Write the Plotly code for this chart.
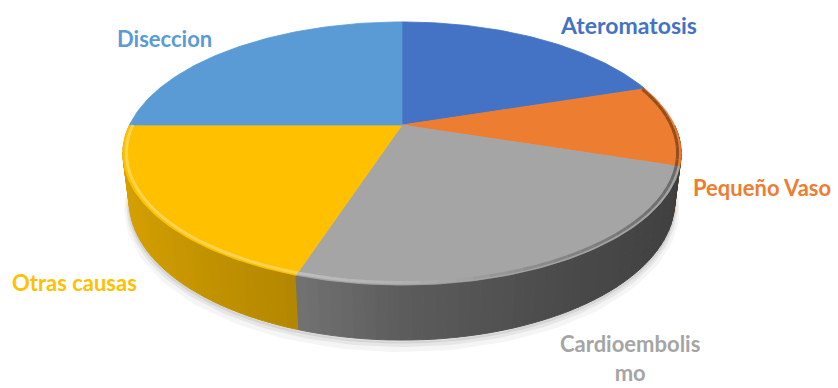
import numpy as np
import plotly.graph_objects as go

# Stroke aetiology shares (percent)
categories = ["Ateromatosis", "Pequeño Vaso", "Cardioembolismo", "Otras causas", "Diseccion"]
values = [20, 10, 25, 20, 25]
colors = ["#4472C4", "#ED7D31", "#A5A5A5", "#FFC000", "#5B9BD5"]
label_text = ["Ateromatosis", "Pequeño Vaso", "Cardioembolis<br>mo", "Otras causas", "Diseccion"]
label_pos = [(628, 25), (762, 187), (630, 358), (74, 282), (164, 38)]

W, H = 838, 388

# simple perspective camera for a tilted disc of unit radius
CX, CY = 402, 125
ELEV = np.radians(27.4)
DIST = 4.10
SCALE = 272.5
THICK = 0.198


def project(theta, h=0.0, r=1.0):
    theta = np.asarray(theta, dtype=float)
    x = r * np.cos(theta)
    y = r * np.sin(theta)
    d = DIST + y * np.cos(ELEV) - h * np.sin(ELEV)
    u = y * np.sin(ELEV) + h * np.cos(ELEV)
    return CX + SCALE * DIST * x / d, CY - SCALE * DIST * u / d


def hex_rgb(c):
    c = c.lstrip("#")
    return np.array([int(c[i:i + 2], 16) for i in (0, 2, 4)], dtype=float)


def shade(c, f):
    rgb = hex_rgb(c)
    if f >= 1:
        rgb = rgb + (255 - rgb) * min(f - 1, 1) * 1.8
    else:
        rgb = rgb * f
    rgb = np.clip(rgb, 0, 255).astype(int)
    return "rgb(%d,%d,%d)" % tuple(rgb)


shares = np.array(values, dtype=float) / sum(values)
cum = np.concatenate([[0], np.cumsum(shares)])
t_start = np.pi / 2 - 2 * np.pi * cum[:-1]
t_end = np.pi / 2 - 2 * np.pi * cum[1:]

fig = go.Figure()


def add_poly(xs, ys, fill, line_w=0.8):
    fig.add_trace(go.Scatter(
        x=xs, y=ys, mode="lines", fill="toself", fillcolor=fill,
        line=dict(color=fill, width=line_w), hoverinfo="skip", showlegend=False))


# soft floor shadow
for dy, a, lw in [(7, 0.04, 10), (4, 0.06, 6), (2, 0.08, 3)]:
    tt = np.linspace(np.radians(-8), np.radians(-172), 120)
    sx, sy = project(tt, -THICK)
    fig.add_trace(go.Scatter(x=sx, y=sy + dy, mode="lines",
                             line=dict(color="rgba(0,0,0,%.2f)" % a, width=lw),
                             hoverinfo="skip", showlegend=False))

# side wall strips, painted far to near
wall_f = lambda c: np.interp(c, [-1, -0.34, 0, 0.5, 1], [0.85, 0.71, 0.56, 0.45, 0.38])
strips = []
for i in range(len(values)):
    hi = min(t_start[i], 0.0)
    lo = max(t_end[i], -np.pi)
    if hi <= lo:
        continue
    n = max(2, int(np.ceil((hi - lo) / np.radians(2))) + 1)
    edges = np.linspace(hi, lo, n)
    for a0, a1 in zip(edges[:-1], edges[1:]):
        strips.append((np.sin((a0 + a1) / 2), i, a0, a1))
strips.sort(key=lambda s: -s[0])
for _, i, a0, a1 in strips:
    tt = np.array([a0, a1])
    tx, ty = project(tt, 0.0)
    bx, by = project(tt[::-1], -THICK)
    xs = np.concatenate([tx, bx, tx[:1]])
    ys = np.concatenate([ty, by, ty[:1]])
    add_poly(xs, ys, shade(colors[i], wall_f(np.cos((a0 + a1) / 2))), 1.0)

# top faces
for i in range(len(values)):
    tt = np.linspace(t_start[i], t_end[i], 90)
    ax, ay = project(tt, 0.0)
    ox, oy = project(0.0, 0.0, 0.0)
    xs = np.concatenate([[ox], ax, [ox]])
    ys = np.concatenate([[oy], ay, [oy]])
    add_poly(xs, ys, colors[i], 0.8)

# bevel along the rim: light on the left, dark on the right
rim_f = lambda c: np.interp(c, [-1, -0.4, 0, 0.5, 1], [1.18, 1.18, 1.08, 0.8, 0.62])
for i in range(len(values)):
    hi = min(t_start[i], np.radians(18))
    lo = max(t_end[i], -np.pi)
    if hi <= lo:
        continue
    n = max(2, int(np.ceil((hi - lo) / np.radians(3))) + 1)
    edges = np.linspace(hi, lo, n)
    for a0, a1 in zip(edges[:-1], edges[1:]):
        tt = np.linspace(a0, a1, 4)
        rx, ry = project(tt, 0.0, 0.988)
        fig.add_trace(go.Scatter(
            x=rx, y=ry, mode="lines",
            line=dict(color=shade(colors[i], rim_f(np.cos((a0 + a1) / 2))), width=3),
            hoverinfo="skip", showlegend=False))

# category labels
for txt, (lx, ly), c in zip(label_text, label_pos, colors):
    size = 23 if txt == "Ateromatosis" else 22
    fig.add_annotation(x=lx, y=ly, xref="x", yref="y", text=txt, showarrow=False,
                       xanchor="center", yanchor="middle",
                       font=dict(family="Lato", size=size, color=c, weight="bold"))

fig.update_layout(
    width=W, height=H, margin=dict(l=0, r=0, t=0, b=0),
    paper_bgcolor="white", plot_bgcolor="white",
    xaxis=dict(range=[0, W], visible=False, fixedrange=True),
    yaxis=dict(range=[H, 0], visible=False, fixedrange=True),
    showlegend=False,
)

fig.write_html("out.html")
